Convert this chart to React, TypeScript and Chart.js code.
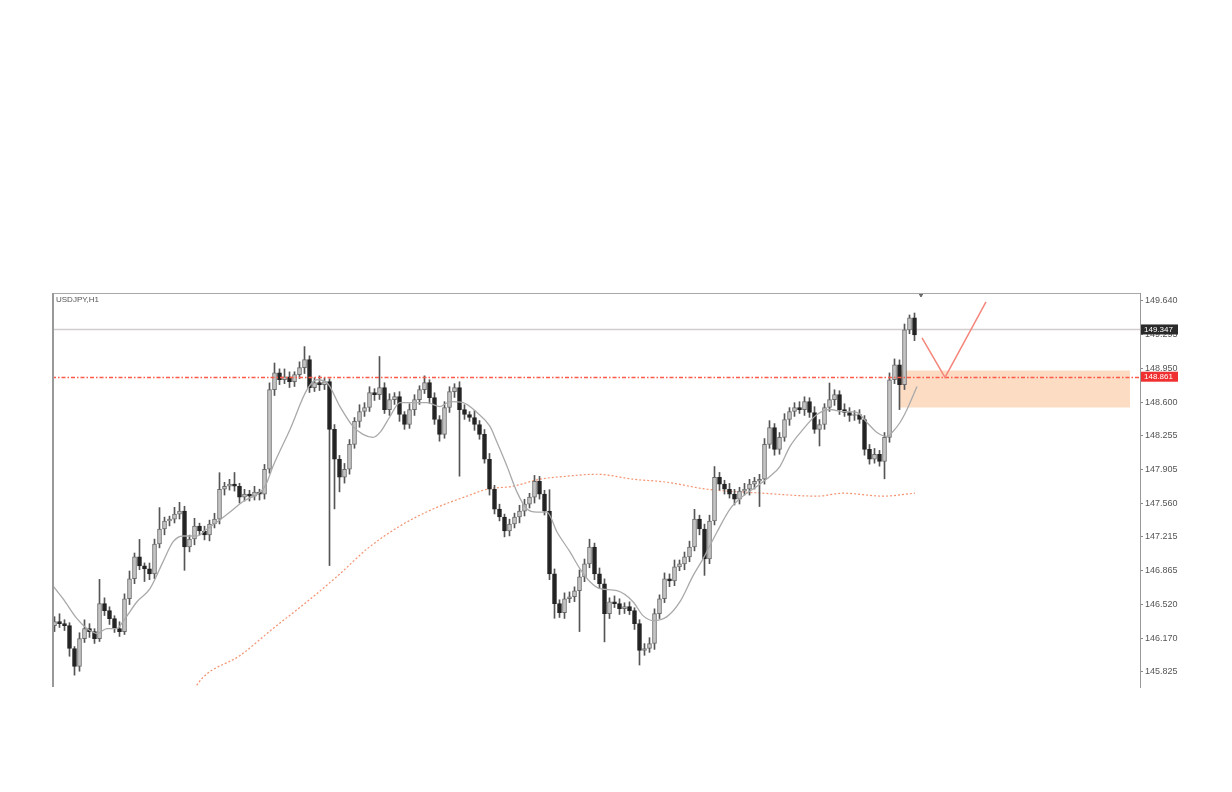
import React, { useEffect, useRef } from "react";
import { Chart, registerables } from "chart.js";

Chart.register(...registerables);

const chartTitle = "USDJPY,H1";
const firstOpen = 146.3;

const closes = [
  146.343, 146.322, 146.301, 146.066, 145.882, 146.168, 146.271, 146.24, 146.168, 146.527,
  146.455, 146.373, 146.271, 146.24, 146.578, 146.783, 147.008, 146.916, 146.885, 146.834,
  147.141, 147.295, 147.377, 147.397, 147.448, 147.479, 147.11, 147.192, 147.325, 147.274,
  147.233, 147.346, 147.397, 147.704, 147.735, 147.756, 147.735, 147.622, 147.653, 147.633,
  147.674, 147.653, 147.909, 148.728, 148.902, 148.83, 148.861, 148.81, 148.882, 148.954,
  149.036, 148.749, 148.8, 148.779, 148.81, 148.319, 148.012, 147.827, 147.909, 148.165,
  148.401, 148.503, 148.544, 148.698, 148.677, 148.749, 148.523, 148.626, 148.657, 148.472,
  148.37, 148.523, 148.626, 148.728, 148.8, 148.646, 148.421, 148.268, 148.544, 148.708,
  148.749, 148.523, 148.472, 148.442, 148.37, 148.268, 148.012, 147.704, 147.5, 147.418,
  147.274, 147.346, 147.418, 147.479, 147.551, 147.622, 147.786, 147.653, 147.479, 146.834,
  146.527, 146.435, 146.578, 146.598, 146.66, 146.803, 146.936, 147.11, 146.834, 146.732,
  146.424, 146.547, 146.527, 146.476, 146.496, 146.455, 146.322, 146.046, 146.066, 146.117,
  146.424, 146.578, 146.783, 146.762, 146.906, 146.936, 147.008, 147.11, 147.397, 147.295,
  146.988, 147.377, 147.827, 147.756, 147.704, 147.653, 147.602, 147.684, 147.704, 147.756,
  147.786, 147.807, 148.165, 148.339, 148.114, 148.237, 148.421, 148.503, 148.544, 148.523,
  148.605, 148.493, 148.319, 148.37, 148.544, 148.626, 148.677, 148.523, 148.493, 148.462,
  148.472, 148.421, 148.114, 148.012, 148.063, 147.991, 148.237, 148.83, 148.984, 148.779,
  149.343, 149.466, 149.292,
];

const upperWicks = [
  0.05, 0.08, 0.04, 0.03, 0.02, 0.06, 0.09, 0.05, 0.03, 0.25,
  0.06, 0.04, 0.03, 0.07, 0.05, 0.08, 0.04, 0.18, 0.03, 0.06,
  0.05, 0.22, 0.04, 0.03, 0.07, 0.09, 0.05, 0.04, 0.08, 0.03,
  0.05, 0.04, 0.06, 0.17, 0.04, 0.05, 0.12, 0.03, 0.05, 0.04,
  0.06, 0.03, 0.05, 0.07, 0.1, 0.04, 0.08, 0.05, 0.03, 0.06,
  0.135, 0.04, 0.05, 0.07, 0.04, 0.03, 0.05, 0.04, 0.06, 0.05,
  0.04, 0.07, 0.05, 0.06, 0.04, 0.32, 0.05, 0.06, 0.04, 0.05,
  0.03, 0.06, 0.05, 0.04, 0.07, 0.03, 0.05, 0.04, 0.06, 0.05,
  0.04, 0.06, 0.05, 0.03, 0.07, 0.04, 0.05, 0.06, 0.04, 0.05,
  0.03, 0.05, 0.04, 0.06, 0.05, 0.04, 0.06, 0.05, 0.04, 0.22,
  0.05, 0.04, 0.06, 0.05, 0.04, 0.07, 0.05, 0.08, 0.04, 0.06,
  0.05, 0.04, 0.06, 0.05, 0.04, 0.05, 0.03, 0.04, 0.05, 0.06,
  0.05, 0.04, 0.06, 0.05, 0.07, 0.04, 0.05, 0.06, 0.1, 0.04,
  0.05, 0.06, 0.11, 0.05, 0.04, 0.06, 0.05, 0.04, 0.06, 0.05,
  0.04, 0.05, 0.06, 0.07, 0.04, 0.05, 0.06, 0.04, 0.05, 0.06,
  0.05, 0.04, 0.06, 0.05, 0.04, 0.17, 0.05, 0.04, 0.06, 0.05,
  0.04, 0.05, 0.04, 0.05, 0.06, 0.04, 0.05, 0.07, 0.06, 0.05,
  0.06, 0.03, 0.05,
];

const lowerWicks = [
  0.06, 0.04, 0.05, 0.08, 0.09, 0.05, 0.04, 0.06, 0.05, 0.03,
  0.05, 0.06, 0.04, 0.05, 0.03, 0.06, 0.05, 0.04, 0.13, 0.06,
  0.05, 0.04, 0.06, 0.05, 0.04, 0.05, 0.24, 0.05, 0.06, 0.04,
  0.05, 0.06, 0.04, 0.05, 0.06, 0.04, 0.05, 0.06, 0.04, 0.05,
  0.04, 0.06, 0.05, 0.04, 0.06, 0.05, 0.04, 0.06, 0.05, 0.04,
  0.06, 0.05, 0.04, 0.06, 0.05, 1.4, 0.51, 0.15, 0.06, 0.05,
  0.04, 0.06, 0.05, 0.04, 0.06, 0.05, 0.04, 0.06, 0.05, 0.07,
  0.05, 0.04, 0.06, 0.05, 0.04, 0.06, 0.05, 0.07, 0.04, 0.05,
  0.06, 0.685, 0.05, 0.04, 0.06, 0.05, 0.04, 0.06, 0.05, 0.04,
  0.06, 0.05, 0.04, 0.06, 0.05, 0.04, 0.06, 0.05, 0.04, 0.06,
  0.15, 0.05, 0.06, 0.04, 0.05, 0.42, 0.05, 0.04, 0.06, 0.05,
  0.29, 0.05, 0.04, 0.06, 0.05, 0.04, 0.06, 0.15, 0.05, 0.04,
  0.06, 0.05, 0.04, 0.06, 0.05, 0.04, 0.06, 0.05, 0.04, 0.06,
  0.17, 0.05, 0.04, 0.06, 0.05, 0.04, 0.06, 0.05, 0.04, 0.06,
  0.05, 0.26, 0.05, 0.04, 0.06, 0.05, 0.04, 0.06, 0.05, 0.04,
  0.06, 0.05, 0.04, 0.17, 0.05, 0.04, 0.06, 0.05, 0.04, 0.06,
  0.05, 0.04, 0.06, 0.05, 0.04, 0.05, 0.18, 0.05, 0.04, 0.256,
  0.05, 0.04, 0.06,
];

// fast moving average (grey)
const maIdx = [-0.3, 1.7, 4.5, 6.5, 8.5, 10.5, 12.5, 13.7, 16.5, 19.1, 21.7, 23.7, 25.7, 28.5, 30.5, 32.5, 35.1, 37.5, 41.7, 42.5, 43.7, 47.1, 50.5, 52.5, 54.5, 57.1, 59.7, 61.7, 63.7, 65.1, 67.1, 69.1, 71.1, 74.5, 77.1, 79.1, 81.7, 84.5, 87.1, 88.5, 90.5, 92.5, 94.5, 96.5, 98.5, 100.5, 103.1, 105.1, 107.1, 109.1, 112.5, 115.7, 117.7, 119.7, 122.5, 125.1, 127.7, 129.7, 132.5, 135.1, 137.7, 140.5, 143.1, 145.1, 147.1, 149.7, 152.5, 155.1, 157.7, 160.5, 162.5, 164.5, 166.5, 167.7, 169.1, 170.5, 172.5];
const maVal = [146.711, 146.578, 146.373, 146.271, 146.22, 146.271, 146.271, 146.343, 146.547, 146.681, 146.957, 147.162, 147.223, 147.223, 147.295, 147.366, 147.469, 147.571, 147.704, 147.776, 147.94, 148.319, 148.728, 148.83, 148.8, 148.554, 148.35, 148.268, 148.237, 148.288, 148.452, 148.595, 148.595, 148.595, 148.554, 148.605, 148.595, 148.493, 148.35, 148.186, 147.94, 147.674, 147.5, 147.469, 147.469, 147.264, 147.059, 146.885, 146.752, 146.681, 146.66, 146.547, 146.404, 146.353, 146.394, 146.547, 146.813, 146.988, 147.264, 147.5, 147.633, 147.735, 147.838, 147.94, 148.145, 148.319, 148.472, 148.524, 148.503, 148.493, 148.39, 148.288, 148.247, 148.298, 148.39, 148.524, 148.76];

// slow moving average (orange dotted)
const slowIdx = [27.1, 29.7, 37.1, 43.7, 50.5, 57.1, 62.5, 69.1, 75.7, 82.5, 86.5, 91.7, 97.1, 102.5, 108.5, 115.7, 122.5, 130.5, 141.7, 152.5, 157.7, 165.7, 172.1];
const slowVal = [145.585, 145.769, 145.994, 146.271, 146.547, 146.834, 147.09, 147.326, 147.5, 147.633, 147.704, 147.735, 147.807, 147.838, 147.858, 147.807, 147.776, 147.704, 147.663, 147.633, 147.663, 147.633, 147.663];

const yTicks = [149.64, 149.295, 148.95, 148.6, 148.255, 147.905, 147.56, 147.215, 146.865, 146.52, 146.17, 145.825];
const yMin = 145.67;
const yMax = 149.722;
const xMin = -0.5;
const xMax = 217.1;

const bidLine = 149.347;
const levelLine = 148.861;
const zoneStart = 169.1;
const zoneEnd = 215.1;
const zoneTop = 148.925;
const zoneBottom = 148.544;
const pathIdx = [173.5, 178.1, 186.3];
const pathVal = [149.261, 148.854, 149.63];
const markerIdx = 173.3;

const overlayPlugin = {
  id: "overlay",
  afterDraw(chart: any) {
    const { ctx, chartArea: a, scales } = chart;
    const y = scales.y;
    ctx.save();
    ctx.strokeStyle = "#a8a8a8";
    ctx.lineWidth = 1;
    ctx.beginPath();
    ctx.moveTo(a.left, a.top + 0.5);
    ctx.lineTo(a.right, a.top + 0.5);
    ctx.stroke();
    ctx.strokeStyle = "#999";
    ctx.lineWidth = 2;
    ctx.beginPath();
    ctx.moveTo(a.left + 1, a.top);
    ctx.lineTo(a.left + 1, a.bottom);
    ctx.stroke();

    ctx.fillStyle = "#555";
    ctx.font = '8px "Liberation Sans"';
    ctx.textBaseline = "top";
    ctx.fillText(chartTitle, a.left + 4, a.top + 3);

    const tags = [
      { v: bidLine, bg: "#2a2a2a" },
      { v: levelLine, bg: "#f03030" },
    ];
    for (const t of tags) {
      const py = y.getPixelForValue(t.v);
      ctx.fillStyle = t.bg;
      ctx.fillRect(a.right + 1, py - 5, 37, 10);
      ctx.fillStyle = "#fff";
      ctx.textBaseline = "middle";
      ctx.font = '8px "Liberation Sans"';
      ctx.fillText(t.v.toFixed(3), a.right + 4, py + 0.5);
    }
    ctx.restore();
  },
};

export default function App() {
  const ref = useRef<HTMLCanvasElement | null>(null);

  useEffect(() => {
    if (!ref.current) return;
    const opens = closes.map((c, i) => (i === 0 ? firstOpen : closes[i - 1]));
    const wickData = closes.map((c, i) => ({
      x: i,
      y: [Math.min(opens[i], c) - lowerWicks[i], Math.max(opens[i], c) + upperWicks[i]],
    }));
    const bodyData = closes.map((c, i) => ({ x: i, y: [opens[i], c] }));
    const bodyFill = closes.map((c, i) => (c >= opens[i] ? "#c4c4c4" : "#222222"));
    const bodyBorder = closes.map((c, i) => (c >= opens[i] ? "#6a6a6a" : "#222222"));

    const chart = new Chart(ref.current, {
      type: "bar",
      data: {
        datasets: [
          {
            type: "line",
            data: [
              { x: zoneStart, y: zoneTop },
              { x: zoneEnd, y: zoneTop },
            ],
            borderWidth: 0,
            borderColor: "rgba(0,0,0,0)",
            backgroundColor: "#fddcc4",
            fill: { value: zoneBottom },
            pointRadius: 0,
            order: 10,
          } as any,
          {
            type: "line",
            data: slowIdx.map((x, i) => ({ x, y: slowVal[i] })),
            borderColor: "#f39370",
            borderWidth: 1.2,
            borderDash: [2, 2],
            pointRadius: 0,
            cubicInterpolationMode: "monotone",
            order: 9,
          } as any,
          {
            type: "line",
            data: [
              { x: xMin, y: bidLine },
              { x: xMax, y: bidLine },
            ],
            borderColor: "#d2cccc",
            borderWidth: 1.5,
            pointRadius: 0,
            order: 8,
          } as any,
          {
            data: wickData,
            backgroundColor: "#555555",
            barThickness: 1,
            grouped: false,
            order: 7,
          } as any,
          {
            data: bodyData,
            backgroundColor: bodyFill,
            borderColor: bodyBorder,
            borderWidth: 1,
            borderSkipped: false,
            barThickness: 4,
            grouped: false,
            order: 6,
          } as any,
          {
            type: "line",
            data: maIdx.map((x, i) => ({ x, y: maVal[i] })),
            borderColor: "#a9a9a9",
            borderWidth: 1.3,
            pointRadius: 0,
            cubicInterpolationMode: "monotone",
            order: 5,
          } as any,
          {
            type: "line",
            data: [
              { x: xMin, y: levelLine - 0.007 },
              { x: xMax, y: levelLine - 0.007 },
            ],
            borderColor: "#ff5a48",
            borderWidth: 1.5,
            borderDash: [4, 2, 1.5, 2],
            pointRadius: 0,
            order: 4,
          } as any,
          {
            type: "line",
            data: pathIdx.map((x, i) => ({ x, y: pathVal[i] })),
            borderColor: "#f4877c",
            borderWidth: 1.5,
            pointRadius: 0,
            order: 3,
          } as any,
          {
            type: "line",
            data: [{ x: markerIdx, y: yMax }],
            showLine: false,
            pointStyle: "triangle",
            rotation: 180,
            pointRadius: 4,
            pointBackgroundColor: "#666",
            pointBorderColor: "#666",
            order: 2,
          } as any,
        ],
      },
      options: {
        responsive: false,
        animation: false,
        events: [],
        layout: { padding: { left: 52, top: 293, bottom: 105, right: 0 } },
        plugins: { legend: { display: false }, tooltip: { enabled: false } },
        scales: {
          x: {
            type: "linear",
            min: xMin,
            max: xMax,
            offset: false,
            display: false,
          },
          y: {
            type: "linear",
            position: "right",
            min: yMin,
            max: yMax,
            afterBuildTicks: (scale: any) => {
              scale.ticks = yTicks.map((v) => ({ value: v }));
            },
            afterFit: (scale: any) => {
              scale.width = 92;
            },
            grid: { drawOnChartArea: false, tickLength: 3, color: "#888" },
            border: { display: true, color: "#999", width: 1 },
            ticks: {
              autoSkip: false,
              padding: 2,
              color: "#555",
              font: { family: "Liberation Sans", size: 9 },
              callback: (v: any) => Number(v).toFixed(3),
            },
          },
        },
      },
      plugins: [overlayPlugin],
    } as any);
    return () => chart.destroy();
  }, []);

  return (
    <div style={{ position: "absolute", left: 0, top: 0, width: 1232, height: 792, background: "#fff" }}>
      <canvas ref={ref} width={1232} height={792} style={{ display: "block" }} />
    </div>
  );
}
